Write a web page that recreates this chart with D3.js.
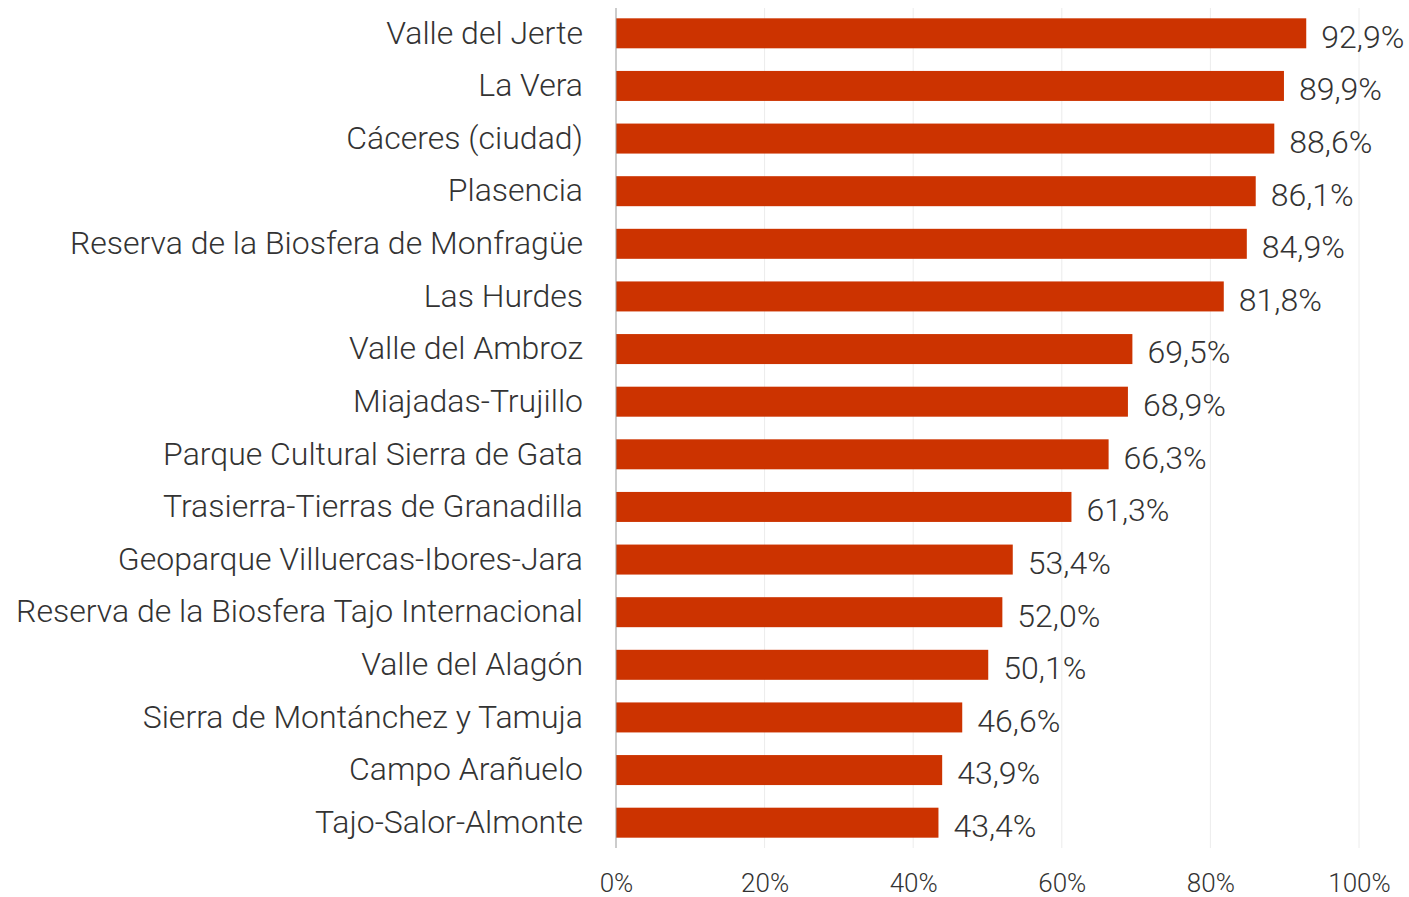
<html>
  <head>
    <meta charset="UTF-8" />
    <script src="https://d3js.org/d3.v7.min.js"></script>
    <style>
      body { margin: 0; background: #fff; }
      svg text { font-family: Roboto, sans-serif; font-weight: 300; fill: #333; }
      .grid line { stroke: #ececec; stroke-width: 1; }
    </style>
  </head>
  <body>
    <div id="chart"></div>
    <script>
      var comarcas = ["Valle del Jerte", "La Vera", "Cáceres (ciudad)", "Plasencia",
        "Reserva de la Biosfera de Monfragüe", "Las Hurdes", "Valle del Ambroz",
        "Miajadas-Trujillo", "Parque Cultural Sierra de Gata", "Trasierra-Tierras de Granadilla",
        "Geoparque Villuercas-Ibores-Jara", "Reserva de la Biosfera Tajo Internacional",
        "Valle del Alagón", "Sierra de Montánchez y Tamuja", "Campo Arañuelo", "Tajo-Salor-Almonte"];
      var valores = [92.9, 89.9, 88.6, 86.1, 84.9, 81.8, 69.5, 68.9, 66.3, 61.3, 53.4, 52.0, 50.1, 46.6, 43.9, 43.4];
      var ticks = [0, 20, 40, 60, 80, 100];

      var width = 1409, height = 897;
      var x0 = 616, x1 = 1359, yTop = 7, yBottom = 849;

      var fmt = d => d.toFixed(1).replace(".", ",") + "%";

      var svg = d3.select("#chart").append("svg")
        .attr("width", width)
        .attr("height", height);

      var xScale = d3.scaleLinear().domain([0, 100]).range([x0, x1]);
      var yScale = d3.scaleBand().domain(comarcas).range([yTop, yBottom])
        .paddingInner(0.43).paddingOuter(0.215);

      /* gridlines */
      svg.append("g").attr("class", "grid")
        .selectAll("line").data(ticks.slice(1)).enter()
        .append("line")
        .attr("x1", d => xScale(d)).attr("x2", d => xScale(d))
        .attr("y1", yTop + 1).attr("y2", yBottom - 1);

      /* bars */
      svg.append("g").selectAll("rect")
        .data(valores).enter()
        .append("rect")
        .attr("x", xScale(0))
        .attr("y", (d, i) => yScale(comarcas[i]))
        .attr("width", d => xScale(d) - xScale(0))
        .attr("height", yScale.bandwidth())
        .attr("fill", "#cc3300");

      /* value labels */
      svg.append("g").selectAll("text")
        .data(valores).enter()
        .append("text")
        .attr("x", d => xScale(d) + 15)
        .attr("y", (d, i) => yScale(comarcas[i]) + yScale.bandwidth() / 2)
        .attr("dy", "0.45em")
        .style("font-size", "32px")
        .text(fmt);

      /* y axis */
      var yAxis = svg.append("g")
        .attr("transform", `translate(${x0},0)`)
        .call(d3.axisLeft(yScale).tickSize(0).tickPadding(33));
      yAxis.select(".domain").attr("stroke", "#999").attr("d", `M0,${yTop + 1}V${yBottom - 1}`);
      yAxis.selectAll("text").style("font-size", "32px").attr("dy", "0.32em");

      /* x axis */
      var xAxis = svg.append("g")
        .attr("transform", `translate(0,${yBottom})`)
        .call(d3.axisBottom(xScale).tickValues(ticks).tickSize(0).tickPadding(25).tickFormat(d => d + "%"));
      xAxis.select(".domain").remove();
      xAxis.selectAll("text").style("font-size", "26px");
    </script>
  </body>
</html>
